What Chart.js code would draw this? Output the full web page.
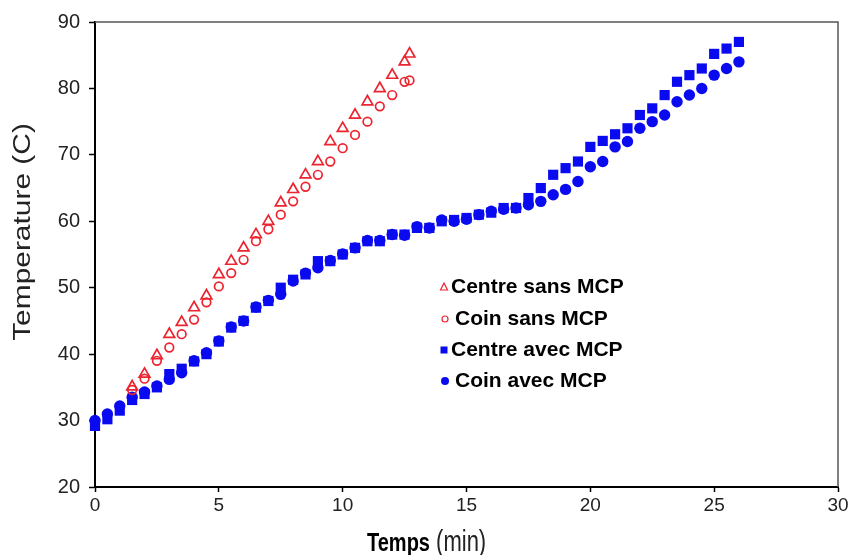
<!DOCTYPE html>
<html>
<head>
<meta charset="utf-8">
<script src="https://cdn.jsdelivr.net/npm/chart.js@4.4.1/dist/chart.umd.min.js"></script>
<style>
  html, body { margin: 0; padding: 0; background: #ffffff; }
  #wrap { width: 853px; height: 555px; position: relative; }
</style>
</head>
<body>
<div id="wrap"><canvas id="c" width="853" height="555"></canvas></div>
<script>
// ---- Data ----
const timeSans = [1.5, 2, 2.5, 3, 3.5, 4, 4.5, 5, 5.5, 6, 6.5, 7, 7.5, 8, 8.5, 9, 9.5, 10, 10.5, 11, 11.5, 12, 12.5, 12.7];
const centreSansMCP = [35.1, 37, 39.8, 43, 44.8, 47, 48.8, 52, 54, 56, 58, 60, 62.8, 64.8, 67, 69, 72, 74, 76, 78, 80, 82, 84, 85.2];
const coinSansMCP   = [34.6, 36.3, 39, 41, 43, 45.2, 47.8, 50.2, 52.2, 54.2, 57, 58.8, 61, 63, 65.2, 67, 69, 71, 73, 75, 77.3, 79, 81, 81.2];

const timeAvec = [0, 0.5, 1, 1.5, 2, 2.5, 3, 3.5, 4, 4.5, 5, 5.5, 6, 6.5, 7, 7.5, 8, 8.5, 9, 9.5, 10, 10.5, 11, 11.5, 12, 12.5, 13, 13.5, 14, 14.5, 15, 15.5, 16, 16.5, 17, 17.5, 18, 18.5, 19, 19.5, 20, 20.5, 21, 21.5, 22, 22.5, 23, 23.5, 24, 24.5, 25, 25.5, 26];
const centreAvecMCP = [29.2, 30.2, 31.5, 33.1, 34, 35, 37, 37.8, 38.9, 40, 41.9, 44, 45, 47, 48, 50, 51.2, 52, 54, 54, 55, 56, 57, 57, 58, 58, 59, 59, 60, 60.2, 60.5, 61, 61.3, 62, 62, 63.5, 65, 67, 68, 69, 71.2, 72.1, 73.1, 74, 76, 77, 79, 81, 82, 83, 85.2, 86, 87];
const coinAvecMCP   = [30, 31, 32.2, 33.5, 34.3, 35.2, 36.2, 37.2, 39, 40.2, 42, 44.1, 45, 47.1, 48.1, 49, 51, 52.2, 53, 54.1, 55.1, 56, 57.1, 57.1, 58, 57.9, 59.2, 59, 60.2, 60, 60.3, 61, 61.5, 61.8, 62, 62.5, 63, 64, 64.8, 66, 68.2, 69, 71.2, 72, 74, 75, 76, 78, 79, 80, 82, 83, 84];

const seriesLabels = ["Centre sans MCP", "Coin sans MCP", "Centre avec MCP", "Coin avec MCP"];
const xTitleBold = "Temps";
const xTitleRest = " (min)";
const yTitle = "Temperature (C)";

const RED = '#ec2430';
const BLUE = '#0a0af0';

function pts(xs, ys) { return xs.map((x, i) => ({ x: x, y: ys[i] })); }

// ---- Plugins ----
const framePlugin = {
  id: 'frame',
  afterDraw(chart) {
    const { ctx, chartArea: a } = chart;
    ctx.save();
    ctx.strokeStyle = '#555';
    ctx.lineWidth = 1.5;
    ctx.beginPath();
    ctx.moveTo(a.left, a.top);
    ctx.lineTo(a.right, a.top);
    ctx.lineTo(a.right, a.bottom);
    ctx.stroke();
    ctx.restore();
  }
};

const titlesPlugin = {
  id: 'titles',
  afterDraw(chart) {
    const ctx = chart.ctx;
    ctx.save();
    ctx.fillStyle = '#222';
    ctx.translate(24, 232);
    ctx.rotate(-Math.PI / 2);
    ctx.scale(1.3, 1);
    ctx.font = '23px "Liberation Sans", Arial, sans-serif';
    ctx.textAlign = 'center';
    ctx.textBaseline = 'middle';
    ctx.fillText(yTitle, 0, 0);
    ctx.restore();

    ctx.save();
    ctx.fillStyle = '#000';
    ctx.textBaseline = 'alphabetic';
    ctx.translate(0, 551);
    ctx.scale(1, 1.3);
    ctx.font = 'bold 20px "Liberation Sans", Arial, sans-serif';
    ctx.textAlign = 'left';
    ctx.fillText(xTitleBold, 367, 0);
    const w = ctx.measureText(xTitleBold).width;
    ctx.fillStyle = '#222';
    ctx.font = '22px "Liberation Sans", Arial, sans-serif';
    ctx.fillText(xTitleRest, 367 + w, 0);
    ctx.restore();
  }
};

const legendPlugin = {
  id: 'insideLegend',
  afterDatasetsDraw(chart) {
    const ctx = chart.ctx;
    const ds = chart.data.datasets;
    const rows = [
      { y: 287, tx: 451, mx: 444 },
      { y: 319, tx: 455, mx: 445 },
      { y: 350, tx: 451, mx: 444 },
      { y: 381, tx: 455, mx: 445 }
    ];
    ctx.save();
    ctx.fillStyle = '#ffffff';
    ctx.fillRect(438, 271, 176, 127);
    rows.forEach((r, i) => {
      const d = ds[i];
      ctx.save();
      ctx.lineWidth = 1.2;
      ctx.strokeStyle = d.borderColor;
      ctx.fillStyle = d.backgroundColor;
      if (d.pointStyle === 'triangle') {
        ctx.beginPath();
        ctx.moveTo(r.mx, r.y - 4);
        ctx.lineTo(r.mx + 3.5, r.y + 3);
        ctx.lineTo(r.mx - 3.5, r.y + 3);
        ctx.closePath();
        ctx.stroke();
      } else if (d.pointStyle === 'rect') {
        ctx.fillRect(r.mx - 3.5, r.y - 3.5, 7, 7);
      } else {
        ctx.beginPath();
        ctx.arc(r.mx, r.y, i === 1 ? 3 : 4, 0, Math.PI * 2);
        if (i === 1) ctx.stroke(); else ctx.fill();
      }
      ctx.restore();
      ctx.fillStyle = '#000';
      ctx.font = 'bold 21px "Liberation Sans", Arial, sans-serif';
      ctx.textAlign = 'left';
      ctx.textBaseline = 'middle';
      ctx.fillText(d.label, r.tx, r.y);
    });
    ctx.restore();
  }
};

const bgPlugin = {
  id: 'bg',
  beforeDraw(chart) {
    const ctx = chart.ctx;
    ctx.save();
    ctx.fillStyle = '#fff';
    ctx.fillRect(0, 0, chart.width, chart.height);
    ctx.restore();
  }
};

new Chart(document.getElementById('c'), {
  type: 'scatter',
  data: {
    datasets: [
      { label: seriesLabels[0], data: pts(timeSans, centreSansMCP), pointStyle: 'triangle', pointRadius: 6.2, borderWidth: 1.7, borderColor: RED, backgroundColor: 'rgba(0,0,0,0)', clip: false, order: 1 },
      { label: seriesLabels[1], data: pts(timeSans, coinSansMCP), pointStyle: 'circle', pointRadius: 4.3, borderWidth: 1.7, borderColor: RED, backgroundColor: 'rgba(0,0,0,0)', clip: false, order: 1 },
      { label: seriesLabels[2], data: pts(timeAvec, centreAvecMCP), pointStyle: 'rect', pointRadius: 7.2, borderWidth: 0, borderColor: BLUE, backgroundColor: BLUE, clip: false, order: 2 },
      { label: seriesLabels[3], data: pts(timeAvec, coinAvecMCP), pointStyle: 'circle', pointRadius: 5.7, borderWidth: 0, borderColor: BLUE, backgroundColor: BLUE, clip: false, order: 2 }
    ]
  },
  options: {
    responsive: false,
    animation: false,
    devicePixelRatio: 1,
    layout: { padding: { left: 0, right: 15, top: 22, bottom: 0 } },
    plugins: {
      legend: { display: false },
      tooltip: { enabled: false }
    },
    scales: {
      x: {
        type: 'linear',
        min: 0, max: 30,
        ticks: { stepSize: 5, color: '#222', font: { size: 19, family: '"Liberation Sans", Arial, sans-serif' }, padding: 2, maxRotation: 0 },
        grid: { drawOnChartArea: false, drawTicks: true, tickLength: 5, color: '#000', tickWidth: 1.5 },
        border: { display: true, color: '#000', width: 2 },
        afterFit(scale) { scale.height = 68; }
      },
      y: {
        type: 'linear',
        min: 20, max: 90,
        ticks: { stepSize: 10, color: '#222', font: { size: 20, family: '"Liberation Sans", Arial, sans-serif' }, padding: 9 },
        grid: { drawOnChartArea: false, drawTicks: true, tickLength: 6, color: '#000', tickWidth: 1.5 },
        border: { display: true, color: '#000', width: 2 },
        afterFit(scale) { scale.width = 95; }
      }
    }
  },
  plugins: [bgPlugin, framePlugin, titlesPlugin, legendPlugin]
});
</script>
</body>
</html>
